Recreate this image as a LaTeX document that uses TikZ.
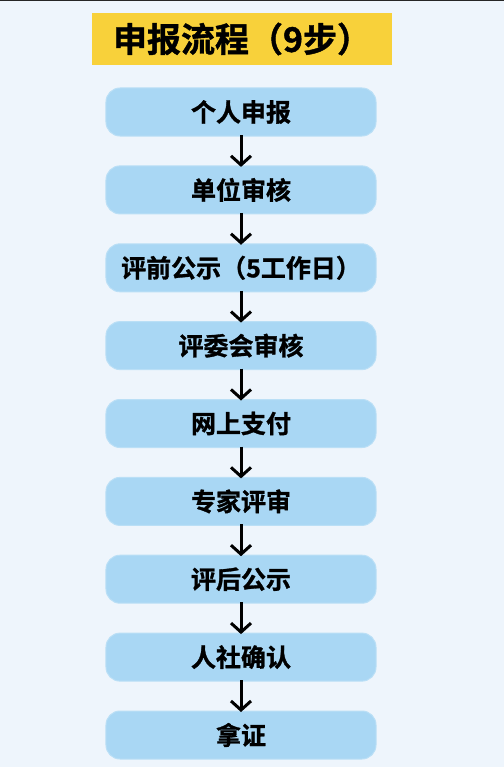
\documentclass[tikz,border=0pt]{standalone}
\usepackage{fontspec}
\newfontfamily\cjk{Noto Sans CJK SC}[BoldFont={* Bold},BoldFeatures={FakeBold=1.2}]
\usetikzlibrary{arrows.meta}
\definecolor{bgc}{HTML}{EEF5FC}
\definecolor{titley}{HTML}{F8D13A}
\definecolor{boxb}{HTML}{A9D7F4}
\begin{document}
\begin{tikzpicture}[x=1bp,y=-1bp,
  stepbox/.style={draw=boxb!80!white,line width=1bp,fill=boxb,rounded corners=14bp,minimum width=270bp,minimum height=48bp,inner sep=0pt,font=\cjk\bfseries\fontsize{25bp}{25bp}\selectfont,text=black},
  flowarrow/.style={line width=3bp,black,-{Straight Barb[length=9bp,width=20bp,line width=3bp]}}]
\useasboundingbox (0,0) rectangle (504,767);
\fill[bgc] (-3,-3) rectangle (507,770);
\fill[black!85] (-3,-3) rectangle (507,1.5);
\node[fill=titley,minimum width=300bp,minimum height=52bp,inner sep=0pt,font=\cjk\bfseries\fontsize{34bp}{34bp}\selectfont] (title) at (242,39) {申报流程（9步）};
\node[stepbox] (s1) at (241,112) {个人申报};
\node[stepbox] (s2) at (241,189.9) {单位审核};
\node[stepbox] (s3) at (241,267.8) {评前公示（5工作日）};
\node[stepbox] (s4) at (241,345.6) {评委会审核};
\node[stepbox] (s5) at (241,423.5) {网上支付};
\node[stepbox] (s6) at (241,501.4) {专家评审};
\node[stepbox] (s7) at (241,579.2) {评后公示};
\node[stepbox] (s8) at (241,657.1) {人社确认};
\node[stepbox] (s9) at (241,735) {拿证};
\foreach \a/\b in {s1/s2,s2/s3,s3/s4,s4/s5,s5/s6,s6/s7,s7/s8,s8/s9}
  \draw[flowarrow] ([yshift=1.5bp]\a.south) -- ([yshift=-1.5bp]\b.north);
\end{tikzpicture}
\end{document}
